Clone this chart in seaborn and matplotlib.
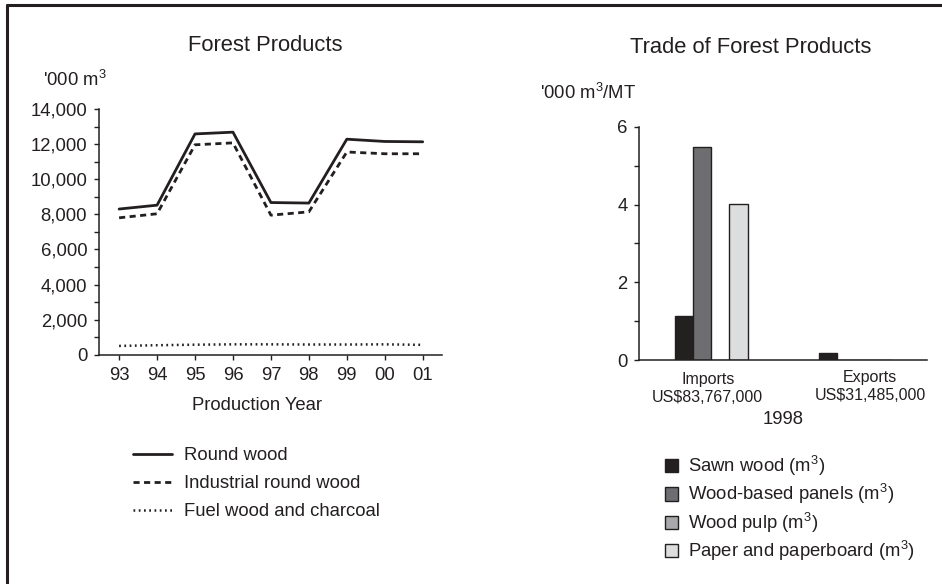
import matplotlib
matplotlib.use("Agg")
import matplotlib.pyplot as plt
import matplotlib.transforms as mtransforms
from matplotlib.lines import Line2D
from matplotlib.patches import Patch
from matplotlib.ticker import MultipleLocator, FuncFormatter
import seaborn as sns
import pandas as pd

# ---------------- data ----------------
years = ["93", "94", "95", "96", "97", "98", "99", "00", "01"]
round_wood = [8300, 8520, 12580, 12680, 8670, 8640, 12280, 12150, 12130]
industrial_round_wood = [7800, 8030, 11960, 12070, 7950, 8140, 11550, 11450, 11450]
fuel_wood = [500, 540, 570, 590, 590, 580, 580, 590, 560]
line_series = ["Round wood", "Industrial round wood", "Fuel wood and charcoal"]

trade_groups = ["Imports\nUS$83,767,000", "Exports\nUS$31,485,000"]
trade_products = ["Sawn wood (m$^3$)", "Wood-based panels (m$^3$)",
                  "Wood pulp (m$^3$)", "Paper and paperboard (m$^3$)"]
imports_vals = [1.14, 5.48, 0.0, 4.02]
exports_vals = [0.19, 0.0, 0.0, 0.0]

# ---------------- style ----------------
sns.set_theme(style="ticks")
plt.rcParams['font.family'] = ['Liberation Sans', 'DejaVu Sans']
plt.rcParams['mathtext.default'] = 'regular'
INK = "#231f20"
plt.rcParams.update({
    "axes.edgecolor": INK, "text.color": INK, "xtick.color": INK,
    "ytick.color": INK, "axes.labelcolor": INK,
})
FS = 13.3

fig = plt.figure(figsize=(9.42, 5.84), dpi=100)
W, H = 942, 584

def ax_rect(x0, x1, ytop, ybot):
    return [x0 / W, 1 - ybot / H, (x1 - x0) / W, (ybot - ytop) / H]

# ---------------- left: line chart ----------------
ax1 = fig.add_axes(ax_rect(99, 441.7, 109, 354.7))
idx = list(range(len(years)))
df_lines = pd.DataFrame({
    "pos": idx * 3,
    "value": round_wood + industrial_round_wood + fuel_wood,
    "series": sum([[s] * len(years) for s in line_series], []),
})
dashes = {line_series[0]: "", line_series[1]: (2.2, 1.6), line_series[2]: (0.7, 1.4)}
widths = {line_series[0]: 2.0, line_series[1]: 2.0, line_series[2]: 1.8}
sns.lineplot(data=df_lines, x="pos", y="value", hue="series", style="series",
             dashes=dashes, palette=[INK] * 3, ax=ax1, legend=False,
             linewidth=2.0)
for ln, s in zip(ax1.get_lines(), line_series):
    ln.set_linewidth(widths[s])

ax1.set_xlim(-0.53, 8.5)
ax1.set_ylim(0, 14000)
ax1.set_xticks(idx)
ax1.set_xticklabels(years)
ax1.yaxis.set_major_locator(MultipleLocator(2000))
ax1.yaxis.set_minor_locator(MultipleLocator(1000))
ax1.yaxis.set_major_formatter(FuncFormatter(lambda v, p: f"{int(v):,}"))
ax1.tick_params(axis="both", which="major", labelsize=FS, length=3.5, width=1.0, pad=5)
ax1.tick_params(axis="y", which="minor", length=3.5, width=1.0)
ax1.tick_params(axis="x", pad=5.5)
for sp in ["top", "right"]:
    ax1.spines[sp].set_visible(False)
for sp in ["left", "bottom"]:
    ax1.spines[sp].set_linewidth(1.1)
ax1.set_xlabel("")
ax1.set_ylabel("")

fig.text(265.7 / W, 1 - 45.7 / H, "Forest Products", ha="center", va="center", fontsize=15.8)
fig.text(43 / W, 1 - 80 / H, "'000 m$^3$", ha="left", va="center", fontsize=FS)
fig.text(257 / W, 1 - 405 / H, "Production Year", ha="center", va="center", fontsize=FS)

line_handles = [Line2D([], [], color=INK, linewidth=widths[s],
                       linestyle=(0, dashes[s]) if dashes[s] else "-")
                for s in line_series]
fig.legend(line_handles, line_series, loc="upper left",
           bbox_to_anchor=(133 / W, 1 - 447 / H), frameon=False, fontsize=FS,
           handlelength=2.1, handletextpad=0.65, labelspacing=0.6,
           borderpad=0, borderaxespad=0)

# ---------------- right: bar chart ----------------
ax2 = fig.add_axes(ax_rect(639.3, 927, 126.7, 360.3))
df_bars = pd.DataFrame({
    "group": [trade_groups[0]] * 4 + [trade_groups[1]] * 4,
    "product": trade_products * 2,
    "value": imports_vals + exports_vals,
})
bar_colors = ["#231f20", "#6d6e71", "#a7a9ac", "#dcddde"]
sns.barplot(data=df_bars, x="group", y="value", hue="product",
            hue_order=trade_products, order=trade_groups, palette=bar_colors,
            width=0.508, gap=0, edgecolor=INK, linewidth=1.0, ax=ax2,
            legend=False)
ax2.set_xlim(-0.5, 1.5)
ax2.set_ylim(0, 6)
ax2.yaxis.set_major_locator(MultipleLocator(2))
ax2.yaxis.set_minor_locator(MultipleLocator(1))
ax2.tick_params(axis="y", which="major", labelsize=FS, length=3.5, width=1.0, pad=5)
ax2.tick_params(axis="y", which="minor", length=3.5, width=1.0)
ax2.tick_params(axis="x", which="both", length=0, labelsize=11.5, pad=8.5)
for sp in ["top", "right"]:
    ax2.spines[sp].set_visible(False)
for sp in ["left", "bottom"]:
    ax2.spines[sp].set_linewidth(1.1)
ax2.set_xlabel("")
ax2.set_ylabel("")
labs = ax2.get_xticklabels()
labs[0].set_transform(labs[0].get_transform() +
                      mtransforms.ScaledTranslation(-3.5 / 100, 0, fig.dpi_scale_trans))
labs[1].set_transform(labs[1].get_transform() +
                      mtransforms.ScaledTranslation(15 / 100, 2 / 100, fig.dpi_scale_trans))

fig.text(751 / W, 1 - 47.7 / H, "Trade of Forest Products", ha="center", va="center", fontsize=15.8)
fig.text(540 / W, 1 - 93.3 / H, "'000 m$^3$/MT", ha="left", va="center", fontsize=FS)
fig.text(782.7 / W, 1 - 419.7 / H, "1998", ha="center", va="center", fontsize=FS)

bar_handles = [Patch(facecolor=c, edgecolor=INK, linewidth=1.0) for c in bar_colors]
fig.legend(bar_handles, trade_products, loc="upper left",
           bbox_to_anchor=(665 / W, 1 - 454 / H), frameon=False, fontsize=FS,
           handlelength=0.72, handleheight=0.72, handletextpad=0.55,
           labelspacing=0.23, borderpad=0, borderaxespad=0)

# ---------------- outer frame (top and left edges) ----------------
fig.add_artist(Line2D([7 / W, 1.0], [1 - 5 / H, 1 - 5 / H], color=INK,
                      linewidth=2.2, transform=fig.transFigure))
fig.add_artist(Line2D([7 / W, 7 / W], [0, 1 - 5 / H], color=INK,
                      linewidth=2.2, transform=fig.transFigure))

fig.savefig("out.png", dpi=100, facecolor="white")
